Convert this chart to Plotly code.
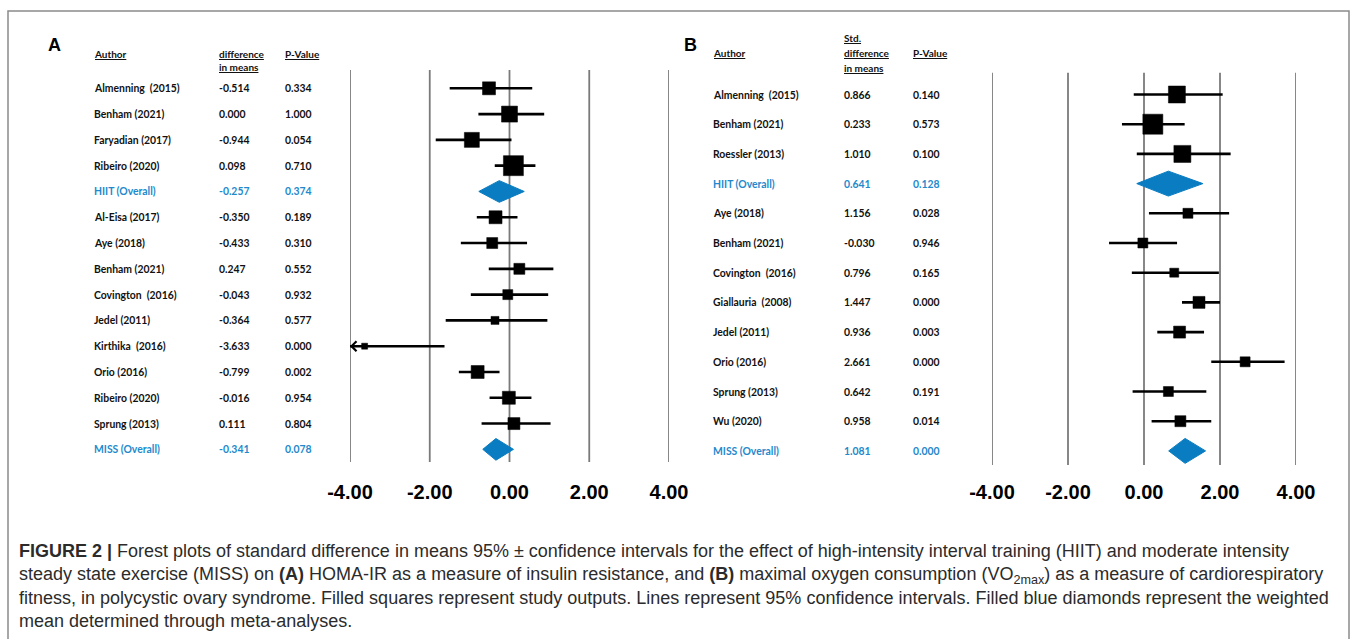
import plotly.graph_objects as go

W, H = 1357, 639

# ---------------- Data: panel A (HOMA-IR) ----------------
authors_A = ["Almenning\u00a0 (2015)", "Benham (2021)", "Faryadian (2017)", "Ribeiro (2020)",
             "HIIT (Overall)", "Al-Eisa (2017)", "Aye (2018)", "Benham (2021)",
             "Covington\u00a0 (2016)", "Jedel (2011)", "Kirthika\u00a0 (2016)", "Orio (2016)",
             "Ribeiro (2020)", "Sprung (2013)", "MISS (Overall)"]
smd_A = [-0.514, 0.000, -0.944, 0.098, -0.257, -0.350, -0.433, 0.247, -0.043, -0.364,
         -3.633, -0.799, -0.016, 0.111, -0.341]
p_A = [0.334, 1.000, 0.054, 0.710, 0.374, 0.189, 0.310, 0.552, 0.932, 0.577,
       0.000, 0.002, 0.954, 0.804, 0.078]
lower_A = [-1.50, -0.78, -1.85, -0.37, -0.77, -0.82, -1.22, -0.52, -0.97, -1.60,
           -5.63, -1.27, -0.50, -0.70, -0.67]
upper_A = [0.57, 0.87, 0.05, 0.65, 0.37, 0.20, 0.44, 1.10, 0.97, 0.95,
           -1.63, -0.25, 0.55, 1.03, 0.10]
weight_A = [13, 16, 15, 20, 0, 13, 11, 11, 10, 8, 6, 13, 13, 12, 0]
overall_A = [False, False, False, False, True, False, False, False, False, False,
             False, False, False, False, True]

# ---------------- Data: panel B (VO2max) ----------------
authors_B = ["Almenning\u00a0 (2015)", "Benham (2021)", "Roessler (2013)", "HIIT (Overall)",
             "Aye (2018)", "Benham (2021)", "Covington\u00a0 (2016)", "Giallauria\u00a0 (2008)",
             "Jedel (2011)", "Orio (2016)", "Sprung (2013)", "Wu (2020)", "MISS (Overall)"]
smd_B = [0.866, 0.233, 1.010, 0.641, 1.156, -0.030, 0.796, 1.447, 0.936, 2.661,
         0.642, 0.958, 1.081]
p_B = [0.140, 0.573, 0.100, 0.128, 0.028, 0.946, 0.165, 0.000, 0.003, 0.000,
       0.191, 0.014, 0.000]
lower_B = [-0.27, -0.58, -0.19, -0.19, 0.13, -0.92, -0.32, 1.00, 0.35, 1.77,
           -0.30, 0.20, 0.65]
upper_B = [2.07, 1.07, 2.28, 1.55, 2.24, 0.87, 1.97, 2.00, 1.58, 3.70,
           1.64, 1.77, 1.62]
weight_B = [17, 20, 17, 0, 10, 10, 9, 12, 12, 10, 10, 11, 0]
overall_B = [False, False, False, True, False, False, False, False, False, False,
             False, False, True]

tick_vals = [-4, -2, 0, 2, 4]
tick_text = ["-4.00", "-2.00", "0.00", "2.00", "4.00"]

# ---------------- Styling ----------------
BLUE_TXT = "#2389cc"
BLUE_DIA = "#0a7dc2"
GRID = "#7a7a7a"
TXT = "#111111"
ROWFONT = "Lato, Liberation Sans, Arial"
CAPFONT = "Liberation Sans, Arial"


def px_x(p):
    return p / W


def px_y(p):
    return 1 - p / H


fig = go.Figure()

panels = [
    dict(name="A", authors=authors_A, smd=smd_A, p=p_A, lo=lower_A, hi=upper_A,
         w=weight_A, ov=overall_A, xa="x", ya="y",
         xdom=(350, 669), ytop=70, ybot=462, row0=88.3, step=25.79,
         col_x=(92, 217, 283), standoff=16),
    dict(name="B", authors=authors_B, smd=smd_B, p=p_B, lo=lower_B, hi=upper_B,
         w=weight_B, ov=overall_B, xa="x2", ya="y2",
         xdom=(992, 1296), ytop=72.7, ybot=465, row0=94.5, step=29.7,
         col_x=(711, 842, 911), standoff=13),
]

annotations = []
shapes = []
layout_axes = {}
for k, P in enumerate(panels):
    n = len(P["authors"])
    rows = list(range(n))
    xmin, xmax = tick_vals[0], tick_vals[-1]
    sfx = "" if k == 0 else "2"
    # vertical reference lines at every tick value
    for tv in tick_vals:
        shapes.append(dict(type="line", xref=P["xa"], yref=P["ya"] + " domain",
                           x0=tv, x1=tv, y0=0, y1=1, layer="below",
                           line=dict(color=GRID, width=1.8)))
    # study whiskers (clipped to axis range) + squares
    st = [i for i in rows if not P["ov"][i]]
    for i in st:
        lo = max(P["lo"][i], xmin)
        fig.add_trace(go.Scatter(x=[lo, P["hi"][i]], y=[i, i], mode="lines",
                                 line=dict(color="black", width=2.6),
                                 xaxis=P["xa"], yaxis=P["ya"], showlegend=False,
                                 hoverinfo="skip"))
        if P["lo"][i] < xmin:
            annotations.append(dict(x=xmin, y=i, ax=xmin + 0.3, ay=i,
                                    xref=P["xa"], yref=P["ya"],
                                    axref=P["xa"], ayref=P["ya"],
                                    text="", showarrow=True, arrowhead=4,
                                    arrowsize=1.2, arrowwidth=1.6,
                                    arrowcolor="black"))
    fig.add_trace(go.Scatter(x=[P["smd"][i] for i in st], y=st, mode="markers",
                             opacity=1,
                             marker=dict(symbol="square", color="#000000", opacity=1,
                                         size=[P["w"][i] for i in st],
                                         line=dict(width=0.5, color="#000000")),
                             xaxis=P["xa"], yaxis=P["ya"], showlegend=False))
    # overall diamonds
    for i in rows:
        if P["ov"][i]:
            h = 0.42
            fig.add_trace(go.Scatter(
                x=[P["lo"][i], P["smd"][i], P["hi"][i], P["smd"][i], P["lo"][i]],
                y=[i, i - h, i, i + h, i], mode="lines", fill="toself",
                fillcolor=BLUE_DIA, line=dict(color=BLUE_DIA, width=1),
                xaxis=P["xa"], yaxis=P["ya"], showlegend=False))
    # axes
    y_lo = (P["ybot"] - P["row0"]) / P["step"]
    y_hi = (P["ytop"] - P["row0"]) / P["step"]
    layout_axes["xaxis" + sfx] = dict(
        domain=[px_x(P["xdom"][0]), px_x(P["xdom"][1])], range=[xmin, xmax],
        anchor="y" + sfx, tickvals=tick_vals, ticktext=tick_text,
        showgrid=False, zeroline=False, automargin=False,
        showline=False, ticks="", ticklabelstandoff=P["standoff"],
        tickfont=dict(family="Liberation Sans, Arial", size=20, color="black",
                      weight="bold"),
        fixedrange=True)
    layout_axes["yaxis" + sfx] = dict(
        domain=[px_y(P["ybot"]), px_y(P["ytop"])], range=[y_lo, y_hi],
        anchor="x" + sfx, showgrid=False, zeroline=False, showticklabels=False,
        showline=False, fixedrange=True, automargin=False)
    # table text
    for i in rows:
        col = BLUE_TXT if P["ov"][i] else TXT
        vals = [P["authors"][i], f"{P['smd'][i]:.3f}", f"{P['p'][i]:.3f}"]
        for cx, v in zip(P["col_x"], vals):
            annotations.append(dict(x=px_x(cx), y=i, xref="paper", yref=P["ya"],
                                    text=f"<b>{v}</b>", showarrow=False,
                                    xanchor="left", yanchor="middle",
                                    font=dict(family=ROWFONT, size=10.4, color=col)))

# headers
hdr_font = dict(family=ROWFONT, size=10, color=TXT)
def hdr(xp, yp, t):
    annotations.append(dict(x=px_x(xp), y=px_y(yp), xref="paper", yref="paper",
                            text=f"<b><u>{t}</u></b>", showarrow=False,
                            xanchor="left", yanchor="middle", font=hdr_font))

hdr(92, 54, "Author"); hdr(217, 54, "difference"); hdr(217, 67, "in means"); hdr(283, 54, "P-Value")
hdr(711, 53, "Author"); hdr(842, 38, "Std."); hdr(842, 53, "difference"); hdr(842, 68, "in means"); hdr(911, 53, "P-Value")

# panel letters
for lt, xp, yp in [("A", 55, 45), ("B", 690, 45)]:
    annotations.append(dict(x=px_x(xp), y=px_y(yp), xref="paper", yref="paper",
                            text=f"<b>{lt}</b>", showarrow=False,
                            xanchor="center", yanchor="middle",
                            font=dict(family="Liberation Sans, Arial", size=18,
                                      color="black")))

caption = ("<b>FIGURE 2 |</b> Forest plots of standard difference in means 95% \u00b1 confidence intervals "
           "for the effect of high-intensity interval training (HIIT) and moderate intensity<br>"
           "steady state exercise (MISS) on <b>(A)</b> HOMA-IR as a measure of insulin resistance, and "
           "<b>(B)</b> maximal oxygen consumption (VO<sub>2max</sub>) as a measure of cardiorespiratory<br>"
           "fitness, in polycystic ovary syndrome. Filled squares represent study outputs. Lines represent "
           "95% confidence intervals. Filled blue diamonds represent the weighted<br>"
           "mean determined through meta-analyses.")
annotations.append(dict(x=px_x(17), y=px_y(539), xref="paper", yref="paper",
                        text=caption, showarrow=False, xanchor="left", yanchor="top",
                        align="left",
                        font=dict(family=CAPFONT, size=18, color="#2b2b2b")))

shapes.append(dict(type="rect", xref="paper", yref="paper",
                   x0=px_x(8), x1=px_x(1349), y0=-0.05, y1=px_y(11),
                   line=dict(color="#8a8a8a", width=1.5), fillcolor="rgba(0,0,0,0)",
                   layer="below"))

fig.update_layout(
    width=W, height=H, margin=dict(l=0, r=0, t=0, b=0, autoexpand=False),
    paper_bgcolor="white", plot_bgcolor="rgba(0,0,0,0)",
    showlegend=False, annotations=annotations, shapes=shapes,
    **layout_axes,
)

fig.write_html("out.html", config={"displayModeBar": False},
               post_script="document.body.style.margin='0';document.body.style.padding='0';")
